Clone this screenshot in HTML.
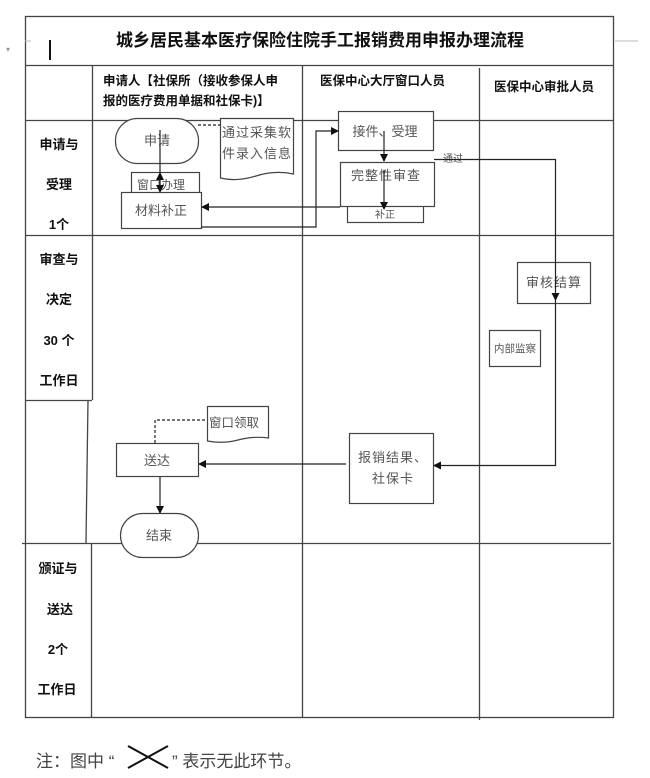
<!DOCTYPE html>
<html><head><meta charset="utf-8"><style>
html,body{margin:0;padding:0;background:#fff;width:650px;height:778px;overflow:hidden}
svg{display:block}
text{font-family:"Liberation Sans","Noto Sans CJK SC","WenQuanYi Zen Hei",sans-serif}
.b{font-weight:bold;fill:#111}
.n{fill:#555;font-size:13px}
</style></head><body>
<svg width="650" height="778" viewBox="0 0 650 778" xmlns="http://www.w3.org/2000/svg">
<defs><marker id="a" markerWidth="8" markerHeight="8" refX="7" refY="4" orient="auto" markerUnits="userSpaceOnUse"><path d="M0,0 L8,4 L0,8 z" fill="#111"/></marker></defs>
<g stroke="#444" stroke-width="1.3" fill="none">
<rect x="25.5" y="16.5" width="588" height="701"/>
<line x1="25" y1="65.5" x2="613" y2="65.5"/>
<line x1="25" y1="120.5" x2="613" y2="120.5"/>
<line x1="25" y1="235.5" x2="613" y2="235.5"/>
<line x1="22" y1="543.5" x2="611" y2="543.5"/>
<line x1="92.5" y1="65" x2="92.5" y2="235"/>
<line x1="302.5" y1="65" x2="302.5" y2="717"/>
<line x1="479.5" y1="68" x2="479.5" y2="720"/>
<line x1="92.5" y1="235" x2="92.5" y2="400"/>
<line x1="25" y1="400.5" x2="92" y2="400.5"/>
<line x1="88" y1="400" x2="86" y2="543"/>
<line x1="91.5" y1="543" x2="91.5" y2="717"/>
</g>
<line x1="615" y1="41" x2="638" y2="41" stroke="#bbb"/>
<line x1="25" y1="41" x2="31" y2="41" stroke="#bbb"/>
<line x1="50" y1="40" x2="50" y2="60" stroke="#111" stroke-width="2"/>
<text x="6" y="52" font-size="8" fill="#999">▾</text>
<text x="320" y="46" text-anchor="middle" class="b" font-size="17">城乡居民基本医疗保险住院手工报销费用申报办理流程</text>
<text x="103" y="85" class="b" font-size="12.5">申请人【社保所（接收参保人申</text>
<text x="103" y="105" class="b" font-size="12.5">报的医疗费用单据和社保卡)】</text>
<text x="320" y="85" class="b" font-size="12.5">医保中心大厅窗口人员</text>
<text x="494" y="91" class="b" font-size="12.5">医保中心审批人员</text>
<g class="b" font-size="13" text-anchor="middle">
<text x="59" y="149">申请与</text><text x="59" y="189">受理</text><text x="59" y="229">1个</text>
<text x="59" y="264">审查与</text><text x="59" y="304">决定</text><text x="59" y="345">30 个</text><text x="59" y="385">工作日</text>
<text x="58" y="573">颁证与</text><text x="60" y="614">送达</text><text x="58" y="654">2个</text><text x="57" y="694">工作日</text>
</g>
<g stroke="#444" stroke-width="1.2" fill="#fff">
<rect x="115.5" y="118.5" width="83" height="45" rx="22"/>
<path d="M220.5,118.5 H293.5 V174 Q275,170 256,176 T220.5,178 z"/>
<rect x="131.5" y="172.5" width="68" height="22"/>
<rect x="121.5" y="192.5" width="80" height="36"/>
<rect x="347.5" y="200.5" width="76" height="22"/>
<rect x="338.5" y="111.5" width="95" height="39"/>
<rect x="340.5" y="162.5" width="94" height="44"/>
<rect x="517.5" y="262.5" width="73" height="41"/>
<rect x="489.5" y="330.5" width="51" height="36"/>
<rect x="349.5" y="433.5" width="84" height="70"/>
<rect x="116.5" y="443.5" width="82" height="33"/>
<path d="M207.5,406.5 H268.5 V438 Q253,436 238,440 T207.5,441 z"/>
<rect x="120.5" y="513.5" width="78" height="44" rx="22"/>
</g>
<g class="n">
<text x="157" y="145" text-anchor="middle">申请</text>
<text x="222" y="137" letter-spacing="1">通过采集软</text>
<text x="222" y="158" letter-spacing="1">件录入信息</text>
<text x="137" y="189" font-size="12">窗口办理</text>
<text x="161" y="215" text-anchor="middle">材料补正</text>
<text x="385" y="218" text-anchor="middle" font-size="10">补正</text>
<text x="385" y="136" text-anchor="middle">接件、受理</text>
<text x="386" y="180" text-anchor="middle" letter-spacing="1">完整性审查</text>
<text x="554" y="287" text-anchor="middle" letter-spacing="1">审核结算</text>
<text x="515" y="352" text-anchor="middle" font-size="10.5">内部监察</text>
<text x="358" y="462" letter-spacing="1">报销结果、</text>
<text x="372" y="483" letter-spacing="1">社保卡</text>
<text x="157" y="465" text-anchor="middle">送达</text>
<text x="209" y="427" font-size="12.5">窗口领取</text>
<text x="159" y="540" text-anchor="middle">结束</text>
<text x="443" y="162" font-size="10">通过</text>
</g>
<g stroke="#222" stroke-width="1.2" fill="none">
<line x1="198" y1="125" x2="220" y2="125" stroke-dasharray="3,2"/>
<line x1="160" y1="130" x2="160" y2="192" marker-end="url(#a)"/>
<line x1="160" y1="186" x2="160" y2="173" marker-end="url(#a)"/>
<line x1="384" y1="131" x2="384" y2="161" marker-end="url(#a)"/>
<line x1="384" y1="170" x2="384" y2="209" marker-end="url(#a)"/>
<line x1="340" y1="207" x2="202" y2="207" marker-end="url(#a)"/>
<polyline points="201,227 316,227 316,131 338,131" marker-end="url(#a)"/>
<polyline points="434,159.5 555.5,159.5 555.5,300" marker-end="url(#a)"/>
<polyline points="555.5,300 555.5,465.5 434,465.5" marker-end="url(#a)"/>
<line x1="346" y1="464" x2="199" y2="464" marker-end="url(#a)"/>
<polyline points="155,443 155,420 207,420" stroke-dasharray="3,2"/>
<line x1="160" y1="477" x2="160" y2="513" marker-end="url(#a)"/>
</g>
<text x="36" y="767" font-size="17" fill="#444">注：图中 “</text>
<path d="M128,746 L168,768 M128,768 L168,746" stroke="#111" stroke-width="2"/>
<text x="172" y="767" font-size="17" fill="#444">” 表示无此环节。</text>
</svg>
</body></html>
